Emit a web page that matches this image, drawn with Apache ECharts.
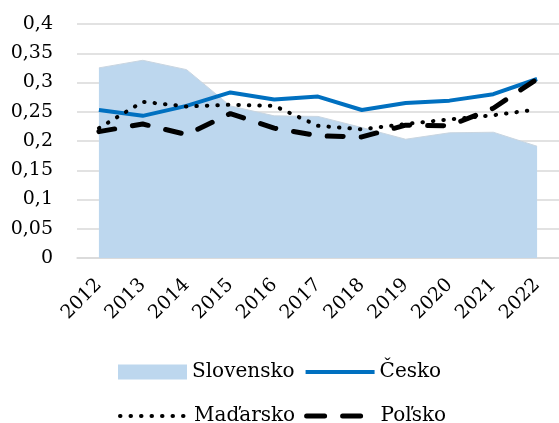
<!DOCTYPE html>
<html>
<head>
<meta charset="utf-8">
<script src="https://cdn.jsdelivr.net/npm/echarts@6/dist/echarts.min.js"></script>
<style>
  html, body { margin: 0; padding: 0; background: #fff; }
  #chart { width: 559px; height: 423px; }
</style>
</head>
<body>
<div id="chart"></div>
<script>
var years = ['2012', '2013', '2014', '2015', '2016', '2017', '2018', '2019', '2020', '2021', '2022'];
var slovensko = [0.325, 0.338, 0.322, 0.26, 0.243, 0.242, 0.223, 0.203, 0.214, 0.215, 0.191];
var cesko = [0.253, 0.243, 0.26, 0.283, 0.271, 0.276, 0.253, 0.265, 0.269, 0.28, 0.306];
var madarsko = [0.222, 0.267, 0.259, 0.262, 0.26, 0.226, 0.22, 0.229, 0.237, 0.244, 0.254];
var polsko = [0.216, 0.229, 0.211, 0.247, 0.222, 0.209, 0.207, 0.227, 0.226, 0.256, 0.306];

var fontFam = 'DejaVu Serif';
var txt = { color: '#000', fontFamily: fontFam, fontSize: 19 };
var legendTxt = { color: '#000', fontFamily: fontFam, fontSize: 20 };

// legend: hide the symbol dot, keep only the line
var noDot = { opacity: 0 };

var chart = echarts.init(document.getElementById('chart'));

var option = {
  animation: false,
  grid: { left: 77, right: -6, top: 24, bottom: 165 },
  legend: [{
    left: 113, top: 357, itemWidth: 69, itemHeight: 15, itemGap: 9,
    textStyle: legendTxt,
    data: [
      { name: 'Slovensko', icon: 'rect' },
      { name: 'Česko', itemStyle: noDot, lineStyle: { width: 4 } }
    ]
  }, {
    left: 113, top: 401, itemWidth: 69, itemHeight: 15, itemGap: 9,
    textStyle: legendTxt,
    data: [
      { name: 'Maďarsko', itemStyle: noDot, lineStyle: { width: 4 } },
      { name: 'Poľsko', itemStyle: noDot, lineStyle: { width: 5, type: [18, 18] } }
    ]
  }],
  xAxis: {
    type: 'category',
    data: years,
    boundaryGap: true,
    axisTick: { show: false },
    axisLine: { lineStyle: { color: '#d9d9d9', width: 1.5 } },
    axisLabel: Object.assign({ rotate: 45, margin: 24, interval: 0 }, txt)
  },
  yAxis: {
    type: 'value',
    min: 0, max: 0.4, interval: 0.05,
    axisLine: { show: false },
    axisTick: { show: false },
    splitLine: { lineStyle: { color: '#d9d9d9', width: 1.5 } },
    axisLabel: Object.assign({
      margin: 24,
      formatter: function (v) { return String(+v.toFixed(2)).replace('.', ','); }
    }, txt)
  },
  series: [{
    name: 'Slovensko', type: 'line', data: slovensko,
    symbol: 'none',
    itemStyle: { color: '#bdd7ee' },
    lineStyle: { width: 1, color: '#c9d5e0' },
    areaStyle: { color: '#bdd7ee', opacity: 1 }
  }, {
    name: 'Česko', type: 'line', data: cesko,
    symbol: 'none',
    itemStyle: { color: '#0070c0' },
    lineStyle: { width: 4, color: '#0070c0' }
  }, {
    name: 'Maďarsko', type: 'line', data: madarsko,
    symbol: 'none',
    itemStyle: { color: '#000' },
    lineStyle: { width: 4, color: '#000', type: [0.5, 10], cap: 'round' }
  }, {
    name: 'Poľsko', type: 'line', data: polsko,
    symbol: 'none',
    itemStyle: { color: '#000' },
    lineStyle: { width: 5, color: '#000', type: [16, 18], cap: 'round' }
  }]
};

chart.setOption(option);
</script>
</body>
</html>
